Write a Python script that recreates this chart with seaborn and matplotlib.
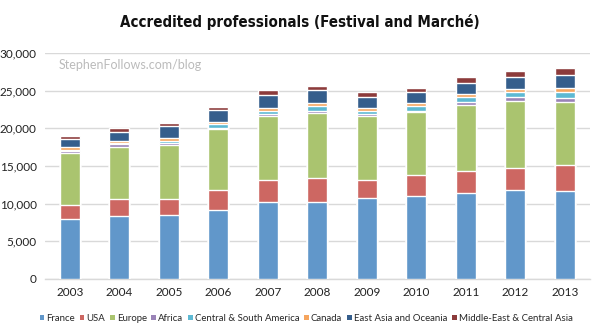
import matplotlib
matplotlib.use("Agg")
import matplotlib.pyplot as plt
from matplotlib.patches import Patch
from matplotlib import font_manager
import numpy as np
import pandas as pd
import seaborn as sns

years = ["2003", "2004", "2005", "2006", "2007", "2008", "2009", "2010", "2011", "2012", "2013"]
regions = ["France", "USA", "Europe", "Africa", "Central & South America",
           "Canada", "East Asia and Oceania", "Middle-East & Central Asia"]
france = [7980, 8320, 8450, 9110, 10210, 10170, 10700, 11050, 11450, 11840, 11670]
usa = [1800, 2290, 2200, 2730, 2990, 3210, 2470, 2690, 2950, 2910, 3480]
europe = [7000, 6960, 7180, 8010, 8410, 8720, 8450, 8370, 8760, 8940, 8410]
africa = [150, 310, 180, 220, 260, 260, 260, 220, 350, 440, 440]
csa = [220, 180, 260, 570, 480, 660, 480, 660, 620, 700, 880]
canada = [350, 260, 400, 220, 350, 350, 350, 400, 480, 400, 530]
eastasia = [1060, 1230, 1630, 1630, 1720, 1670, 1450, 1450, 1450, 1630, 1720]
mideast = [400, 440, 400, 400, 620, 620, 620, 480, 750, 750, 840]

colors = ["#6197CA", "#CD6762", "#AAC46F", "#9A83B7", "#5DB9D3",
          "#F6A55E", "#355E8C", "#8C3B3B"]

series = [france, usa, europe, africa, csa, canada, eastasia, mideast]
df = pd.DataFrame({r: s for r, s in zip(regions, series)}, index=years)
cum = df.cumsum(axis=1)

sns.set_theme(style="white")
plt.rcParams["font.family"] = ["Lato", "DejaVu Sans"]

# look for a condensed bold face for the title
cond = [f for f in font_manager.fontManager.ttflist
        if ("Condensed" in f.name or "Narrow" in f.name
            or f.stretch in ("condensed", "semi-condensed", 500, 375, 300))]
title_kw = dict(fontsize=10.5, fontweight="heavy", family=["Lato", "DejaVu Sans"])
cand = [f for f in cond if f.weight in ("bold", 700, "heavy", 800, 900)]
if cand:
    title_kw = dict(fontproperties=font_manager.FontProperties(fname=cand[0].fname, size=10.8))

fig = plt.figure(figsize=(6.0, 3.35), dpi=100)
ax = fig.add_axes([0.075, 0.1672, 0.9075, 0.6746])

for k in reversed(range(len(regions))):
    sns.barplot(x=list(cum.index), y=cum[regions[k]].values, color=colors[k],
                width=0.4, saturation=1, ax=ax, zorder=3)

ax.set_ylim(0, 30000)
ax.set_xlim(-0.5, 10.5)
ax.set_yticks(np.arange(0, 30001, 5000))
ax.set_yticklabels([f"{v:,}" for v in range(0, 30001, 5000)])
ax.yaxis.grid(True, color="#D9D9D9", linewidth=1.0, zorder=0)
ax.set_axisbelow(True)
for s in ["top", "right", "left"]:
    ax.spines[s].set_visible(False)
ax.spines["bottom"].set_color("#D9D9D9")
ax.spines["bottom"].set_linewidth(1.0)
ax.tick_params(axis="both", length=0, labelsize=8.5, colors="#222222")
ax.tick_params(axis="y", pad=6)
ax.tick_params(axis="x", pad=6)
ax.set_xlabel("")
ax.set_ylabel("")

fig.text(0.5, 0.935, "Accredited professionals (Festival and Marché)",
         ha="center", va="center", color="#111111", **title_kw)
ax.text(0.025, 0.945, "StephenFollows.com/blog", transform=ax.transAxes,
        ha="left", va="center", fontsize=9, color="#BBBBBB")

handles = [Patch(facecolor=c, edgecolor="none", label=r) for r, c in zip(regions, colors)]
fig.legend(handles=handles, loc="center", bbox_to_anchor=(0.51, 0.05), ncol=8,
           frameon=False, fontsize=6.9, handlelength=0.5, handleheight=0.5,
           handletextpad=0.2, columnspacing=0.5, borderaxespad=0)

fig.savefig("out.png", dpi=100)
